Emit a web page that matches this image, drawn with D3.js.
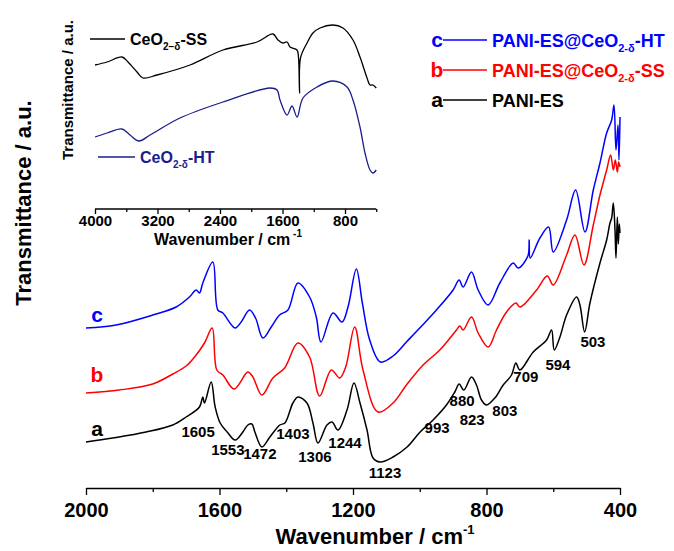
<!DOCTYPE html>
<html>
<head>
<meta charset="utf-8">
<script src="https://cdn.jsdelivr.net/npm/d3@7"></script>
<style>
  body { margin: 0; background: #fff; }
  text { font-family: Arial, "Liberation Sans", sans-serif; font-weight: bold; }
</style>
</head>
<body>
<svg id="chart" width="674" height="551"></svg>
<script>
// main spectra: [wavenumber, transmittance a.u.]
var paniES = [
  [2000, 11.5], [1920, 12.5], [1820, 14], [1740, 15.75], [1700, 17.75], [1660, 20.25],
  [1650, 22.75], [1645, 21.25], [1625, 26.5], [1613, 20.25], [1598, 16.25], [1577, 14],
  [1553, 12], [1530, 14], [1515, 15.75], [1503, 16], [1494, 14], [1473, 10.25],
  [1449, 12.75], [1419, 15.75], [1404, 16.25], [1380, 21.25], [1365, 22.75], [1338, 21.25],
  [1320, 16.25], [1305, 11.25], [1278, 15.75], [1263, 16.5], [1245, 14.5], [1218, 19.5],
  [1197, 26.25], [1179, 21.25], [1158, 14.5], [1140, 7.5], [1119, 6.5], [1080, 7.75],
  [1038, 10.25], [999, 14], [960, 17], [920, 20.75], [895, 24], [882, 26], [868, 24.5],
  [845, 27.75], [830, 25.75], [815, 22], [800, 20.75], [775, 22.5], [750, 25.75],
  [725, 28.25], [712, 31.25], [700, 29.5], [660, 34], [620, 37], [605, 39.5], [597, 34.5],
  [580, 37.75], [560, 43.25], [530, 47.75], [520, 45.75], [506, 39], [490, 46.25],
  [460, 56.25], [440, 62], [430, 66.25], [425, 67.5], [420, 71.25], [415, 64.5],
  [412, 57.5], [408, 67.75], [405, 61], [402, 66], [400, 63.75]
];
var paniSS = [
  [2000, 23.75], [1900, 24.5], [1800, 26], [1740, 28.5], [1700, 30.5], [1670, 33.25],
  [1645, 36.25], [1622, 40], [1608, 29.5], [1590, 28.25], [1556, 24.75], [1515, 29],
  [1500, 27.75], [1473, 23.25], [1440, 27.5], [1405, 30], [1365, 36.25], [1330, 32.75],
  [1300, 23], [1265, 29.5], [1240, 27.5], [1222, 30.25], [1195, 40.25], [1170, 29.5],
  [1125, 19], [1080, 21.25], [1040, 25.75], [990, 30.75], [940, 34.5], [890, 39.5],
  [880, 40.5], [870, 39.5], [845, 42.75], [825, 38.75], [795, 35.25], [770, 39.5],
  [740, 44], [712, 46.25], [700, 45.25], [650, 49.5], [618, 53], [600, 50.75],
  [560, 58.25], [535, 63.25], [508, 55.75], [480, 65.75], [460, 73.25], [440, 79.5],
  [428, 83.25], [420, 79.5], [414, 82], [408, 79], [404, 81.5], [400, 80.25]
];
var paniHT = [
  [2000, 40], [1910, 40.75], [1800, 43.25], [1730, 45.25], [1690, 47.75], [1670, 49.5],
  [1660, 48.75], [1650, 51.25], [1620, 56.5], [1605, 44.5], [1590, 43.75], [1553, 40],
  [1535, 41.5], [1510, 44.5], [1492, 42.5], [1470, 37.5], [1445, 40.25], [1420, 43.25],
  [1395, 44.5], [1365, 51.25], [1330, 47.75], [1310, 42.75], [1296, 36.5], [1260, 43.75],
  [1233, 41.5], [1215, 45.25], [1190, 54.75], [1172, 46.25], [1150, 37], [1118, 31.5],
  [1080, 33], [1040, 36.5], [1000, 40], [950, 44.5], [900, 49.5], [882, 52], [870, 50.25],
  [845, 54], [825, 49.5], [795, 45.75], [760, 51.25], [720, 56.25], [705, 55],
  [676, 58], [672, 62], [669, 57.5], [640, 62.5], [614, 65.25], [600, 59], [560, 67],
  [533, 74.5], [505, 64], [480, 74.5], [460, 81.25], [440, 88.75], [425, 92],
  [418, 95.75], [412, 84.5], [406, 90.75], [403, 82], [400, 92.75]
];

// inset spectra
var ceoSS = [
  [4000, 33.75], [3846, 34.5], [3654, 35.75], [3578, 34.5], [3462, 32], [3386, 30.5],
  [3206, 31.25], [2784, 33.75], [2362, 37.5], [1926, 39.5], [1722, 41.5], [1658, 40],
  [1594, 39.25], [1542, 39.5], [1504, 38.25], [1414, 37.5], [1395, 35.5], [1382, 26.75],
  [1370, 35.5], [1286, 39.25], [1210, 41.75], [1120, 43], [954, 43.75], [826, 43],
  [698, 40], [608, 35.75], [518, 30.5], [480, 28.75], [442, 28.75], [400, 28]
];
var ceoHT = [
  [4000, 15.75], [3846, 16.75], [3654, 17.75], [3552, 16.25], [3437, 14.75], [3296, 16.25],
  [2912, 20.5], [2362, 24.5], [1760, 28], [1670, 27.5], [1632, 25], [1542, 21.25],
  [1478, 23.5], [1414, 20.75], [1338, 25.5], [1158, 28.25], [954, 29.75], [774, 28.25],
  [698, 25], [608, 18.25], [544, 11.75], [480, 7.5], [442, 6.75], [400, 7.5]
];

var mainTicks = [2000, 1600, 1200, 800, 400];
var mainMinor = [1800, 1400, 1000, 600];
var insetTicks = [4000, 3200, 2400, 1600, 800];
var insetMinor = [3600, 2800, 2000, 1200, 400];

// peak labels on curve a: [text, wavenumber, a.u.]
var peaks = [
  ["1605", 1664, 14.25], ["1553", 1575, 9.75], ["1472", 1479, 8.75], ["1403", 1380, 13.75],
  ["1306", 1314, 8], ["1244", 1224, 11.5], ["1123", 1104, 4], ["993", 948, 15.25],
  ["880", 873, 22], ["823", 843, 17.25], ["803", 745, 19.5], ["709", 682, 28],
  ["594", 586, 31], ["503", 481, 36.75]
];

var BLUE = "#0000ff", RED = "#ff0000", NAVY = "#1c1c8c";

var svg = d3.select("#chart");

// ---- main plot
var x = d3.scaleLinear().domain([2000, 400]).range([86, 620]);
var y = d3.scaleLinear().domain([0, 100]).range([488, 88]);

var line = d3.line()
  .x(function(d) { return x(d[0]); })
  .y(function(d) { return y(d[1]); })
  .curve(d3.curveCatmullRom.alpha(0.5));

var series = [
  { data: paniES, color: "#000" },
  { data: paniSS, color: RED },
  { data: paniHT, color: BLUE }
];
svg.selectAll(".spec").data(series).enter().append("path")
  .attr("d", function(d) { return line(d.data); })
  .attr("fill", "none")
  .attr("stroke", function(d) { return d.color; })
  .attr("stroke-width", 1.5)
  .attr("stroke-linejoin", "round");

var xAxis = svg.append("g").attr("transform", "translate(0,488)")
  .call(d3.axisBottom(x).tickValues(mainTicks).tickSize(7).tickSizeOuter(0).tickFormat(d3.format("d")));
svg.append("g").attr("transform", "translate(0,488)")
  .call(d3.axisBottom(x).tickValues(mainMinor).tickSize(4).tickFormat(""))
  .select(".domain").remove();
svg.selectAll(".tick line, .domain").attr("stroke", "#000").attr("stroke-width", 1.5);
xAxis.selectAll(".tick text").attr("font-size", 20).attr("fill", "#000").attr("dy", "0.95em")
  .style("font-family", "Arial, 'Liberation Sans', sans-serif").style("font-weight", "bold");

var xl = svg.append("text").attr("x", 375).attr("y", 544).attr("text-anchor", "middle").attr("font-size", 22);
xl.append("tspan").text("Wavenumber / cm");
xl.append("tspan").attr("font-size", 13).attr("dy", -10).text("-1");

svg.append("text").attr("transform", "translate(31,203) rotate(-90)")
  .attr("text-anchor", "middle").attr("font-size", 22).text("Transmittance / a.u.");

// curve letters
var letters = [["c", BLUE, 322], ["b", RED, 382], ["a", "#000", 436]];
svg.selectAll(".lt").data(letters).enter().append("text")
  .attr("x", 97).attr("y", function(d) { return d[2]; })
  .attr("text-anchor", "middle").attr("font-size", 21)
  .attr("fill", function(d) { return d[1]; }).text(function(d) { return d[0]; });

svg.selectAll(".pk").data(peaks).enter().append("text")
  .attr("x", function(d) { return x(d[1]); })
  .attr("y", function(d) { return y(d[2]) + 5.5; })
  .attr("text-anchor", "middle").attr("font-size", 15).text(function(d) { return d[0]; });

// main legend
var legend = [
  ["c", BLUE, "-HT", 40],
  ["b", RED, "-SS", 70],
  ["a", "#000", null, 100]
];
legend.forEach(function(l) {
  var g = svg.append("g").attr("fill", l[1]);
  g.append("text").attr("x", 437).attr("y", l[3] + 7).attr("text-anchor", "middle").attr("font-size", 21).text(l[0]);
  g.append("line").attr("x1", 443).attr("x2", 487).attr("y1", l[3]).attr("y2", l[3])
    .attr("stroke", l[1]).attr("stroke-width", 1.5);
  var t = g.append("text").attr("x", 492).attr("y", l[3] + 7).attr("font-size", 18);
  if (l[2]) {
    t.append("tspan").text("PANI-ES@CeO");
    t.append("tspan").attr("font-size", 11).attr("dy", 5).text("2-δ");
    t.append("tspan").attr("dy", -5).text(l[2]);
  } else {
    t.text("PANI-ES");
  }
});

// ---- inset
var xi = d3.scaleLinear().domain([4000, 0]).range([95, 407.5]);
var yi = d3.scaleLinear().domain([0, 50]).range([200, 0]);
var lineI = d3.line()
  .x(function(d) { return xi(d[0]); })
  .y(function(d) { return yi(d[1]); })
  .curve(d3.curveCatmullRom.alpha(0.5));

svg.append("path").attr("d", lineI(ceoSS)).attr("fill", "none").attr("stroke", "#000").attr("stroke-width", 1.3);
svg.append("path").attr("d", lineI(ceoHT)).attr("fill", "none").attr("stroke", NAVY).attr("stroke-width", 1.3);

var inAx = svg.append("g").attr("class", "inax").attr("transform", "translate(0,209)")
  .call(d3.axisBottom(xi).tickValues(insetTicks).tickSize(5).tickSizeOuter(0).tickFormat(d3.format("d")));
inAx.select(".domain").attr("d", "M" + xi(4000) + ",0H" + xi(400));
svg.append("g").attr("transform", "translate(0,209)")
  .call(d3.axisBottom(xi).tickValues(insetMinor).tickSize(3).tickFormat(""))
  .select(".domain").remove();
svg.selectAll(".tick line, .domain").attr("stroke", "#000").attr("stroke-width", 1.3);
inAx.selectAll(".tick text").attr("font-size", 15).attr("fill", "#000").attr("dy", "0.6em")
  .style("font-family", "Arial, 'Liberation Sans', sans-serif").style("font-weight", "bold");

var xli = svg.append("text").attr("x", 228).attr("y", 245).attr("text-anchor", "middle").attr("font-size", 16);
xli.append("tspan").text("Wavenumber / cm");
xli.append("tspan").attr("font-size", 10).attr("dy", -8).text(" -1");

svg.append("text").attr("transform", "translate(73,90) rotate(-90)")
  .attr("text-anchor", "middle").attr("font-size", 15).text("Transmittance / a.u.");

var insetLeg = [
  [90, 125, 39, "#000", "2−δ", "-SS"],
  [98, 135, 157, NAVY, "2-δ", "-HT"]
];
insetLeg.forEach(function(l) {
  svg.append("line").attr("x1", l[0]).attr("x2", l[1]).attr("y1", l[2]).attr("y2", l[2])
    .attr("stroke", l[3]).attr("stroke-width", 1.3);
  var t = svg.append("text").attr("x", l[1] + 5).attr("y", l[2] + 6).attr("font-size", 16).attr("fill", l[3]);
  t.append("tspan").text("CeO");
  t.append("tspan").attr("font-size", 10).attr("dy", 5).text(l[4]);
  t.append("tspan").attr("dy", -5).text(l[5]);
});
</script>
</body>
</html>
